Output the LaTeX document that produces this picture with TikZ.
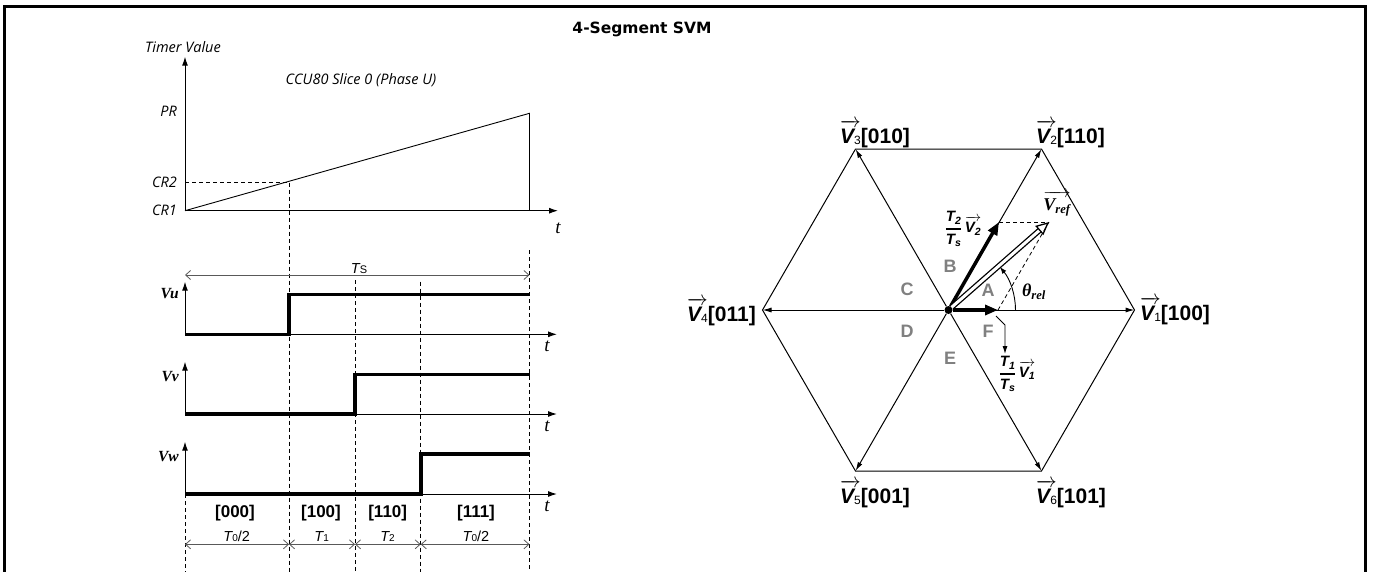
\documentclass[tikz,border=0pt]{standalone}
\usepackage{fontspec}
\setmainfont{Liberation Sans}
\newfontfamily\uifont{Open Sans}
\newfontfamily\serf{Liberation Serif}
\newfontfamily\headfont{DejaVu Sans}
\usetikzlibrary{positioning,arrows.meta,calc}

\newcommand\hexv[2]{$\overrightarrow{\mbox{\rule{0pt}{17pt}\bfseries\itshape V\raisebox{-1pt}{\mdseries\upshape\fontsize{12}{12}\selectfont #1}}}$\textbf{[#2]}}
\newcommand\ratio[1]{$\displaystyle{\mbox{\bfseries\itshape T\textsubscript{#1}}\above1.4pt\mbox{\bfseries\itshape T\textsubscript{s}}}\,\overrightarrow{\mbox{\rule{0pt}{12pt}\bfseries\itshape V\textsubscript{#1}}}$}

\begin{document}
\begin{tikzpicture}[x=1pt, y=-1pt,
  font=\fontsize{14}{16}\selectfont,
  rim/.style={line width=2.4pt},
  tax/.style={-{Latex[length=9pt,width=6pt]}, line width=1pt},
  wave/.style={line width=3.6pt, line join=miter},
  guide/.style={dashed, dash pattern=on 4pt off 3pt, line width=0.8pt},
  dimarrow/.style={{Straight Barb[length=5pt,width=9pt]}-{Straight Barb[length=5pt,width=9pt]}, draw=black!65, line width=0.8pt},
  spoke/.style={-{Latex[length=9pt,width=5pt]}, line width=1pt},
  hexedge/.style={line width=1pt},
  partvec/.style={-{Triangle[length=13pt,width=10pt]}, line width=3.5pt},
  refvec/.style={double=white, double distance=3pt, line width=1.3pt, -{Triangle[open, length=13pt, width=12pt]}},
  sector/.style={font=\fontsize{18}{18}\selectfont\bfseries, text=black!50},
  vlab/.style={font=\fontsize{21}{21}\selectfont, anchor=base west, inner sep=0pt},
  cr/.style={font=\uifont\fontsize{14.5}{16}\selectfont\itshape, anchor=east, inner sep=0pt},
  sig/.style={font=\serf\fontsize{15.5}{16}\selectfont\bfseries\itshape, anchor=base east, inner sep=0pt},
  tlab/.style={font=\serf\fontsize{19}{19}\selectfont\itshape, anchor=base, inner sep=0pt},
  vecstate/.style={font=\fontsize{17}{17}\selectfont\bfseries, anchor=base, inner sep=0pt},
  seglab/.style={font=\fontsize{14.5}{15}\selectfont, anchor=base, inner sep=0pt}
]
\useasboundingbox (0,0) rectangle (1373,571);
\draw[rim] (4.5,575) -- (4.5,6.5) -- (1365.5,6.5) -- (1365.5,575);

\node[font=\headfont\fontsize{15.5}{16}\selectfont\bfseries] (title) at (642,29) {4-Segment SVM};

% timer
\coordinate (org) at (185,210.7);
\coordinate (ytop) at (185,56.7);
\coordinate (xend) at (558,210.7);
\coordinate (pk) at (529.5,113.3);
\coordinate (pkb) at (529.5,210.7);
\coordinate (cr2) at (185,182.7);
\coordinate (gb) at (289,182.7);
\draw[tax] (org) -- (ytop);
\draw[tax] (org) -- (xend);
\draw[line width=0.9pt] (org) -- (pk) -- (pkb);
\draw[guide] (cr2) -- (gb);
\node[font=\uifont\fontsize{14.5}{16}\selectfont\itshape] (tv) at (183,47) {Timer Value};
\node[font=\uifont\fontsize{14.5}{16}\selectfont\itshape] (ccu) at (361,80) {CCU80 Slice 0 (Phase U)};
\node[cr] (pr) at (177,111.7) {PR};
\node[cr] (c2) at (177,182.7) {CR2};
\node[cr] (c1) at (177,210.7) {CR1};
\node[tlab] (t0) at (558,233) {t};

% guides
\coordinate (ga) at (185,494);
\coordinate (gc) at (355,280);
\coordinate (gd) at (420.7,281.7);
\coordinate (ge) at (529.5,250);
\draw[guide] (ga) -- (185,575);
\draw[guide] (gb) -- (289,575);
\draw[guide] (gc) -- (355,575);
\draw[guide] (gd) -- (420.7,575);
\draw[guide] (ge) -- (529.5,575);

\coordinate (tsl) at (185,275);
\coordinate (tsr) at (529.5,275);
\draw[dimarrow] (tsl) -- (tsr);
\node[seglab] (ts) at (359,273) {{\itshape T}{\fontsize{11}{11}\selectfont S}};

% phase u
\coordinate (u0) at (185,334.3);
\coordinate (utop) at (185,281.7);
\coordinate (uend) at (557,334.3);
\draw[tax] (u0) -- (utop);
\draw[tax] (u0) -- (uend);
\draw[wave] (u0) -- (289,334.3) -- (289,294.3) -- (529.5,294.3);
\node[sig] (vu) at (179,298.3) {Vu};
\node[tlab] (t1) at (547,351.7) {t};

% phase v
\coordinate (v0) at (185,414);
\coordinate (vtop) at (185,361.7);
\coordinate (vend) at (557,414);
\draw[tax] (v0) -- (vtop);
\draw[tax] (v0) -- (vend);
\draw[wave] (v0) -- (355,414) -- (355,374.3) -- (529.5,374.3);
\node[sig] (vv) at (179,381.7) {Vv};
\node[tlab] (t2) at (547,431.7) {t};

% phase w
\coordinate (w0) at (185,494);
\coordinate (wtop) at (185,441.7);
\coordinate (wend) at (557,494);
\draw[tax] (w0) -- (wtop);
\draw[tax] (w0) -- (wend);
\draw[wave] (w0) -- (420.7,494) -- (420.7,454) -- (529.5,454);
\node[sig] (vw) at (179,461.7) {Vw};
\node[tlab] (t3) at (547,511.7) {t};

\node[vecstate] (s0) at (235,517.3) {[000]};
\node[vecstate] (s1) at (321,517.3) {[100]};
\node[vecstate] (s2) at (387.7,517.3) {[110]};
\node[vecstate] (s3) at (476,517.3) {[111]};
\node[seglab] (p0) at (236.7,541) {{\itshape T}{\fontsize{10}{10}\selectfont 0}/2};
\node[seglab] (p1) at (321.7,541) {{\itshape T}{\fontsize{10}{10}\selectfont 1}};
\node[seglab] (p2) at (387.5,541) {{\itshape T}{\fontsize{10}{10}\selectfont 2}};
\node[seglab] (p3) at (476,541) {{\itshape T}{\fontsize{10}{10}\selectfont 0}/2};

\coordinate (d0) at (185,544.3);
\coordinate (d1) at (289,544.3);
\coordinate (d2) at (355,544.3);
\coordinate (d3) at (420.7,544.3);
\coordinate (d4) at (529.5,544.3);
\draw[dimarrow] (d0) -- (d1);
\draw[dimarrow] (d1) -- (d2);
\draw[dimarrow] (d2) -- (d3);
\draw[dimarrow] (d3) -- (d4);

% hexagon
\node[circle, fill, inner sep=0pt, minimum size=8pt] (o) at (948.5,310) {};
\coordinate (h1) at (1134.5,310);
\coordinate (h2) at (1041.5,149);
\coordinate (h3) at (855.5,149);
\coordinate (h4) at (762.5,310);
\coordinate (h5) at (855.5,471);
\coordinate (h6) at (1041.5,471);
\draw[hexedge] (h1) -- (h2) -- (h3) -- (h4) -- (h5) -- (h6) -- cycle;
\draw[spoke] (o) -- (h1);
\draw[spoke] (o) -- (h2);
\draw[spoke] (o) -- (h3);
\draw[spoke] (o) -- (h4);
\draw[spoke] (o) -- (h5);
\draw[spoke] (o) -- (h6);

\node[vlab] (l1) at (1140,320.5) {\hexv{1}{100}};
\node[vlab] (l2) at (1036,143) {\hexv{2}{110}};
\node[vlab] (l3) at (840,143) {\hexv{3}{010}};
\node[vlab] (l4) at (687,321.7) {\hexv{4}{011}};
\node[vlab] (l5) at (840,503.3) {\hexv{5}{001}};
\node[vlab] (l6) at (1036,503.3) {\hexv{6}{101}};

\node[sector] (sa) at (988,290) {A};
\node[sector] (sb) at (950,266.7) {B};
\node[sector] (sc) at (907,289) {C};
\node[sector] (sd) at (907,331.7) {D};
\node[sector] (se) at (950,358) {E};
\node[sector] (sf) at (988,331.7) {F};

\coordinate (q1) at (998,310);
\coordinate (q2) at (999,222);
\coordinate (r) at (1049,222);
\draw[guide] (q2) -- (r);
\draw[guide] (q1) -- (r);
\draw[partvec] (o) -- (q1);
\draw[partvec] (o) -- (q2);
\draw[refvec] (o) -- (r);

\coordinate (a0) at (1015.5,310);
\draw[-{Latex[length=7pt,width=5pt]}, line width=0.9pt] (a0) arc[start angle=0, end angle=40, radius=67pt];
\node[font=\serf\fontsize{18}{18}\selectfont\bfseries\itshape] (th) at (1034,292) {θ\textsubscript{rel}};
\node[font=\serf\fontsize{18}{18}\selectfont] (vr) at (1057,204) {$\overrightarrow{\mbox{\rule{0pt}{14pt}\bfseries\itshape V\textsubscript{ref}}}$};

\node[font=\fontsize{15}{16}\selectfont] (r2) at (963,229) {\ratio{2}};
\node[font=\fontsize{15}{16}\selectfont] (r1) at (1017,374) {\ratio{1}};
\coordinate (b1) at (996,316);
\coordinate (b2) at (1005,325);
\coordinate (b3) at (1005,354);
\draw[-{Latex[length=8pt,width=5pt]}, line width=0.9pt] (b1) -- (b2) -- (b3);
\end{tikzpicture}
\end{document}
